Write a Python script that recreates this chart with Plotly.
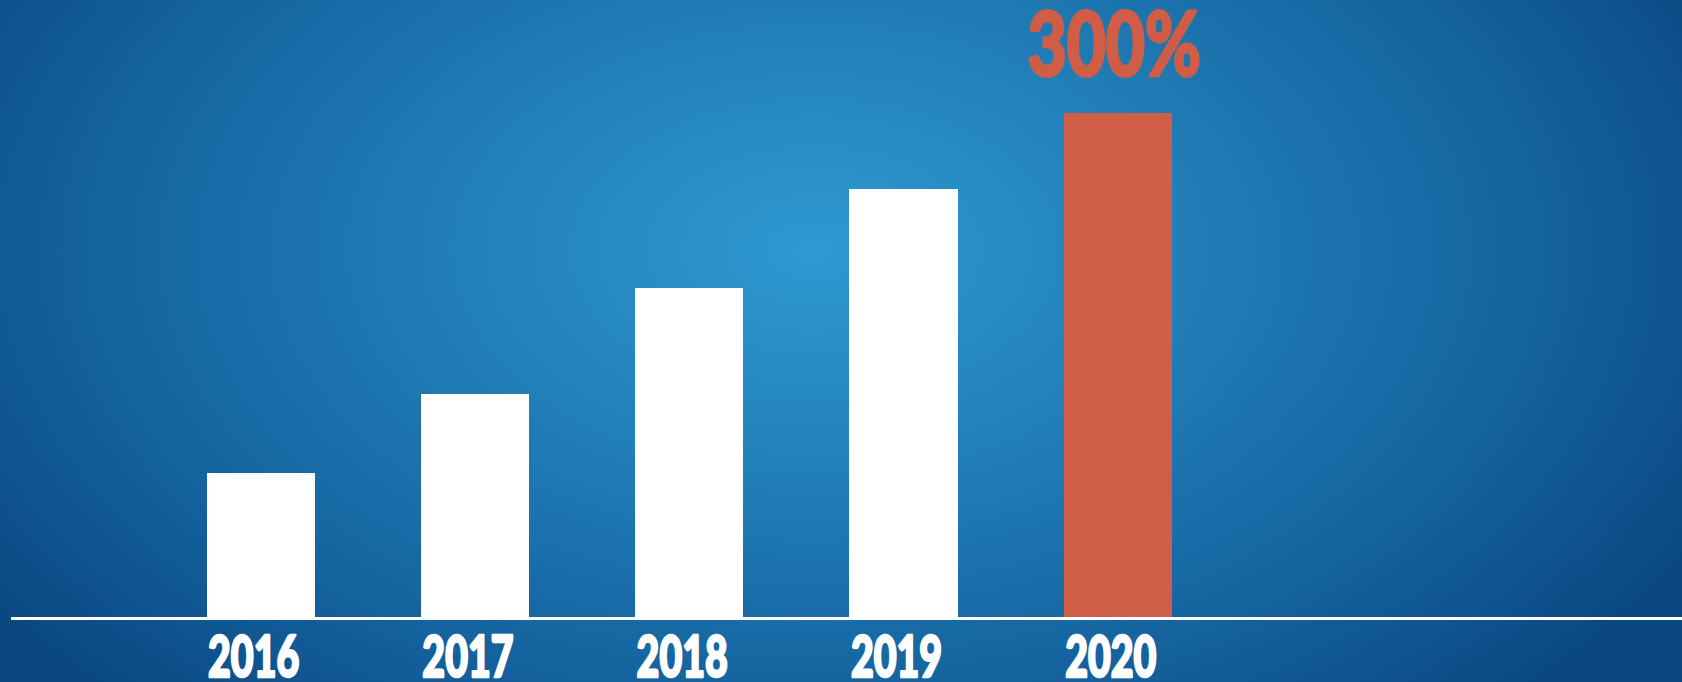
import base64
import plotly.graph_objects as go

# ---- data ----
years = ["2016", "2017", "2018", "2019", "2020"]
values = [86, 133, 196, 255, 300]
highlight_label = "300%"

# ---- styles ----
W, H = 1682, 682
ML, MR, MT, MB = 11, 0, 0, 65
BAR_WHITE = "#ffffff"
BAR_RED = "#d05d45"
FONT = "Lato, Roboto, DejaVu Sans, sans-serif"
TICK_SCALE = 0.69
ANN_SCALE = 0.76

bar_colors = [BAR_WHITE] * (len(years) - 1) + [BAR_RED]

svg = f"""<svg xmlns='http://www.w3.org/2000/svg' width='{W}' height='{H}' viewBox='0 0 {W} {H}' preserveAspectRatio='none'>
<defs><radialGradient id='g' gradientUnits='userSpaceOnUse' cx='815' cy='250' r='1000' gradientTransform='translate(815 250) scale(1 0.62) translate(-815 -250)'>
<stop offset='0' stop-color='#2f99d1'/>
<stop offset='0.35' stop-color='#2280b9'/>
<stop offset='0.75' stop-color='#13609c'/>
<stop offset='1' stop-color='#0b4883'/>
</radialGradient></defs>
<rect x='0' y='0' width='{W}' height='{H}' fill='url(#g)'/>
</svg>"""
bg_uri = "data:image/svg+xml;base64," + base64.b64encode(svg.encode()).decode()

pw = W - ML - MR
ph = H - MT - MB

fig = go.Figure(
    go.Bar(
        x=years,
        y=values,
        marker=dict(color=bar_colors, line=dict(width=0)),
        width=0.505,
        hoverinfo="skip",
    )
)

fig.add_annotation(
    x=len(years) - 1, y=values[-1], text=highlight_label,
    showarrow=False, yanchor="bottom", yshift=16, xshift=-4,
    font=dict(family=FONT, size=89, color=BAR_RED, weight=900),
)

fig.add_layout_image(
    source=bg_uri, xref="paper", yref="paper",
    x=-ML / pw, y=1 + MT / ph, sizex=W / pw, sizey=H / ph,
    xanchor="left", yanchor="top", sizing="stretch", layer="below",
)

fig.update_layout(
    width=W, height=H,
    margin=dict(l=ML, r=MR, t=MT, b=MB, autoexpand=False),
    paper_bgcolor="#1565a0",
    plot_bgcolor="rgba(0,0,0,0)",
    showlegend=False,
    bargap=0,
    xaxis=dict(
        type="category",
        range=[-1.165, 6.633],
        automargin=False,
        showgrid=False, zeroline=False,
        showline=True, linecolor="#ffffff", linewidth=2.5,
        ticks="", ticklen=0, ticklabelstandoff=-11, ticklabelshift=-7,
        tickfont=dict(family=FONT, size=57, color="#ffffff", weight=900),
        fixedrange=True,
    ),
    yaxis=dict(
        range=[0, ph / 1.68],
        visible=False, showgrid=False, zeroline=False,
        automargin=False,
        fixedrange=True,
    ),
)

post = (
    "var s = document.createElement('style');"
    "s.textContent = 'html,body{margin:0;padding:0;overflow:hidden;}"
    " g.xtick{transform-box:fill-box;transform-origin:center;transform:scaleX(%s);}"
    " g.xtick text{stroke:#ffffff;stroke-width:2.5px;stroke-linejoin:round;}"
    " text.annotation-text{transform-box:fill-box;transform-origin:center;transform:scaleX(%s);"
    "stroke:%s;stroke-width:3px;stroke-linejoin:round;}';"
    "document.head.appendChild(s);"
) % (TICK_SCALE, ANN_SCALE, BAR_RED)

fig.write_html("out.html", post_script=post, config={"displayModeBar": False})
